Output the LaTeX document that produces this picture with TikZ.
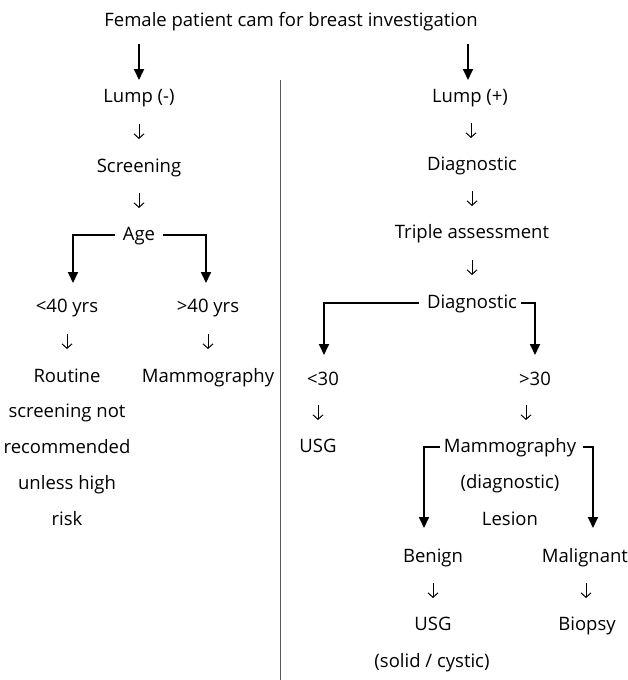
\documentclass[tikz,border=0pt]{standalone}
\usepackage{fontspec}
\setmainfont{Open Sans}
\usetikzlibrary{arrows.meta,calc}
\tikzset{
  base/.style={font=\fontsize{18.5}{22}\selectfont, inner sep=1pt},
  lbl/.style={base, text height=14pt, text depth=4pt, anchor=center},
  big/.style={line width=1.8pt, -{Triangle[width=10pt,length=11pt]}},
  small/.style={line width=1pt, -{Straight Barb[length=4.5pt,width=10pt]}},
  sep/.style={line width=0.9pt, draw=black!65}
}
\newcommand{\smarrow}[2]{\draw[small] ($(#1)!.5!(#2)+(0,-8)$) -- ($(#1)!.5!(#2)+(0,7)$);}
\begin{document}
\begin{tikzpicture}[x=1pt,y=-1pt]
\useasboundingbox (0,0) rectangle (628,680);
\fill[white] (0,0) rectangle (628,680);

% title
\node[lbl] (title) at (291,22) {Female patient cam for breast investigation};

% separator
\coordinate (septop) at (280,80);
\coordinate (sepbot) at (280,680);
\draw[sep] (septop) -- (sepbot);

% left column
\node[lbl] (lumpm) at (139,97) {Lump (-)};
\node[lbl] (scr) at (139,167) {Screening};
\node[lbl] (age) at (139,235) {Age};
\node[lbl] (lt40) at (67,307) {<40 yrs};
\node[lbl] (gt40) at (208,307) {>40 yrs};
\node[base, align=center, font=\fontsize{18.5}{35.75}\selectfont, anchor=base] (routine) at (67,525) {Routine\\screening not\\recommended\\unless high\\risk};
\node[lbl] (mammoL) at (208,377) {Mammography};

% right column
\node[lbl] (lumpp) at (470,97) {Lump (+)};
\node[lbl] (diag1) at (472,165) {Diagnostic};
\node[lbl] (triple) at (472,233) {Triple assessment};
\node[lbl] (diag2) at (472,303) {Diagnostic};
\node[lbl] (lt30) at (323,380) {<30};
\node[lbl] (gt30) at (535,380) {>30};
\node[lbl] (usg1) at (318,447) {USG};
\node[lbl] (mammoR) at (510,447) {Mammography};
\node[lbl] (diagnostic) at (510,483) {(diagnostic)};
\node[lbl] (lesion) at (510,520) {Lesion};
\node[lbl] (benign) at (433,557) {Benign};
\node[lbl] (malig) at (585,557) {Malignant};
\node[lbl] (usg2) at (433,625) {USG};
\node[lbl] (solid) at (432,662) {(solid / cystic)};
\node[lbl] (biopsy) at (587,625) {Biopsy};

% arrow tips
\coordinate (tipLm) at (139,80);
\coordinate (tipLp) at (468,80);
\coordinate (tipL40) at (73,283);
\coordinate (tipG40) at (206,283);
\coordinate (tipL30) at (324,355);
\coordinate (tipG30) at (535,355);
\coordinate (tipBen) at (424,528);
\coordinate (tipMal) at (593,528);

% big arrows from title
\draw[big, shorten <=12pt] (title.south -| tipLm) -- (tipLm);
\draw[big, shorten <=12pt] (title.south -| tipLp) -- (tipLp);

% branches
\draw[big, shorten <=7pt] (age.west) -| (tipL40);
\draw[big, shorten <=7pt] (age.east) -| (tipG40);
\draw[big, shorten <=7pt] (diag2.west) -| (tipL30);
\draw[big, shorten <=3pt] (diag2.east) -| (tipG30);
\draw[big, shorten <=3pt] (mammoR.west) -| (tipBen);
\draw[big, shorten <=6pt] (mammoR.east) -| (tipMal);

% small arrows
\smarrow{lumpm}{scr}
\smarrow{scr}{age}
\draw[small] ($(lt40)+(0,27)$) -- ($(lt40)+(0,42)$);
\draw[small] ($(gt40)+(0,27)$) -- ($(gt40)+(0,42)$);
\smarrow{lumpp}{diag1}
\smarrow{diag1}{triple}
\smarrow{triple}{diag2}
\draw[small] ($(usg1)+(0,-42)$) -- ($(usg1)+(0,-27)$);
\draw[small] ($(mammoR)+(16,-42)$) -- ($(mammoR)+(16,-27)$);
\smarrow{benign}{usg2}
\smarrow{malig}{biopsy}
\end{tikzpicture}
\end{document}
